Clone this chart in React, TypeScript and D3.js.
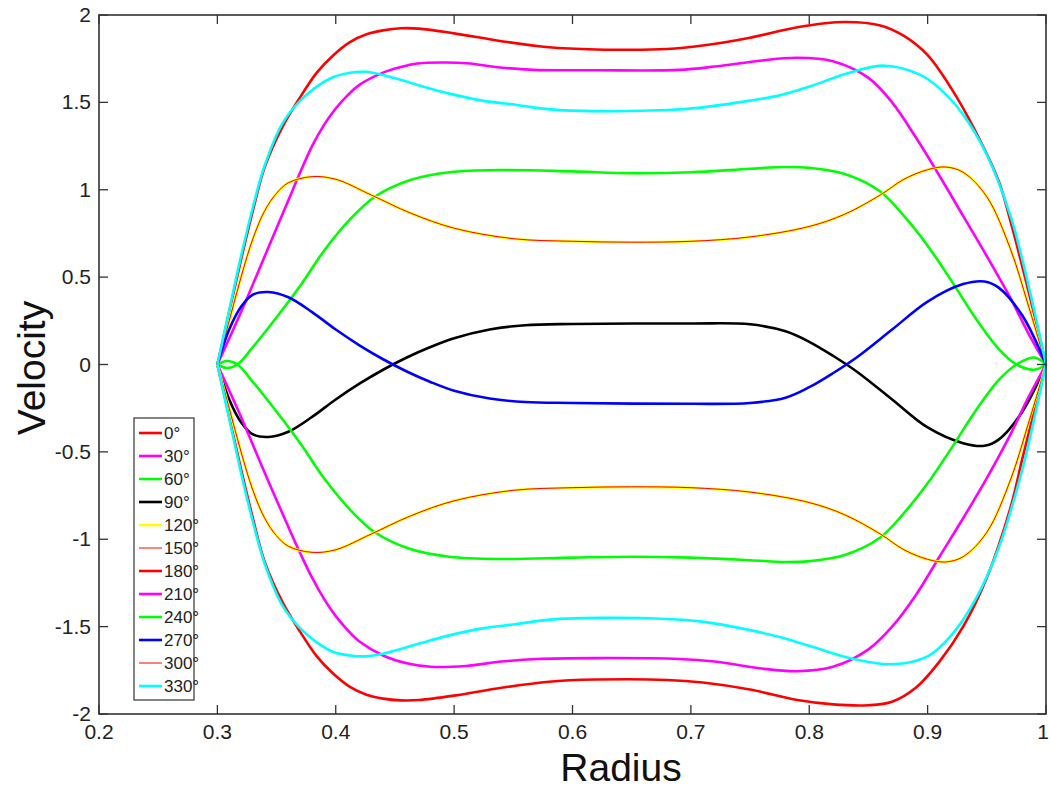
import React from "react";
import * as d3 from "d3";

const xTicks = [0.2, 0.3, 0.4, 0.5, 0.6, 0.7, 0.8, 0.9, 1];
const yTicks = [-2, -1.5, -1, -0.5, 0, 0.5, 1, 1.5, 2];
const xTickLabels = ["0.2", "0.3", "0.4", "0.5", "0.6", "0.7", "0.8", "0.9", "1"];
const yTickLabels = ["-2", "-1.5", "-1", "-0.5", "0", "0.5", "1", "1.5", "2"];

const red0: [number, number][] = [[0.3,0],[0.31,0.3],[0.32,0.6],[0.33,0.88],[0.34,1.13],[0.355,1.36],[0.37,1.53],[0.384,1.67],[0.398,1.77],[0.412,1.845],[0.426,1.89],[0.44,1.912],[0.455,1.924],[0.47,1.922],[0.5,1.895],[0.54,1.85],[0.58,1.815],[0.62,1.803],[0.68,1.805],[0.71,1.825],[0.75,1.87],[0.79,1.93],[0.83,1.96],[0.86,1.94],[0.88,1.88],[0.9,1.77],[0.92,1.58],[0.94,1.34],[0.96,1.05],[0.97,0.82],[0.98,0.56],[0.99,0.29],[1,0]];
const magenta30: [number, number][] = [[0.3,0],[0.32,0.3],[0.34,0.62],[0.36,0.94],[0.37,1.1],[0.38,1.25],[0.39,1.37],[0.4,1.465],[0.41,1.54],[0.42,1.6],[0.44,1.67],[0.454,1.7],[0.469,1.722],[0.49,1.728],[0.511,1.724],[0.539,1.7],[0.567,1.686],[0.62,1.684],[0.69,1.686],[0.72,1.705],[0.76,1.74],[0.79,1.755],[0.82,1.735],[0.85,1.64],[0.87,1.5],[0.89,1.3],[0.91,1.08],[0.93,0.85],[0.95,0.62],[0.97,0.38],[0.985,0.18],[1,0]];
const green60: [number, number][] = [[0.3,0],[0.308,-0.02],[0.317,0],[0.33,0.1],[0.342,0.2],[0.37,0.45],[0.39,0.65],[0.412,0.83],[0.433,0.96],[0.463,1.056],[0.496,1.1],[0.539,1.113],[0.6,1.105],[0.65,1.095],[0.7,1.1],[0.75,1.12],[0.78,1.13],[0.8,1.125],[0.83,1.09],[0.86,0.99],[0.88,0.85],[0.9,0.68],[0.92,0.48],[0.94,0.27],[0.96,0.09],[0.975,0],[0.99,-0.03],[1,0]];
const black90: [number, number][] = [[0.3,0],[0.31,-0.2],[0.32,-0.33],[0.33,-0.4],[0.343,-0.415],[0.36,-0.385],[0.38,-0.3],[0.4,-0.2],[0.42,-0.11],[0.44,-0.03],[0.46,0.04],[0.48,0.1],[0.5,0.15],[0.53,0.2],[0.56,0.225],[0.6,0.232],[0.7,0.235],[0.75,0.23],[0.78,0.19],[0.8,0.13],[0.82,0.05],[0.84,-0.04],[0.87,-0.2],[0.9,-0.36],[0.93,-0.45],[0.948,-0.465],[0.96,-0.43],[0.98,-0.27],[1,0]];
const yellow120: [number, number][] = [[0.3,0],[0.31,0.25],[0.32,0.5],[0.33,0.72],[0.34,0.88],[0.35,0.98],[0.36,1.04],[0.38,1.075],[0.4,1.06],[0.43,0.97],[0.463,0.867],[0.5,0.78],[0.55,0.72],[0.6,0.705],[0.65,0.7],[0.7,0.705],[0.75,0.73],[0.8,0.79],[0.83,0.86],[0.86,0.97],[0.88,1.06],[0.9,1.115],[0.915,1.13],[0.93,1.1],[0.95,0.96],[0.97,0.66],[0.985,0.34],[1,0]];
const red150: [number, number][] = yellow120.map(([x, y]) => [x, y]);
const red180: [number, number][] = [[0.3,0],[0.31,-0.3],[0.32,-0.6],[0.33,-0.88],[0.34,-1.13],[0.355,-1.36],[0.37,-1.53],[0.384,-1.67],[0.398,-1.77],[0.412,-1.845],[0.426,-1.89],[0.44,-1.912],[0.455,-1.922],[0.47,-1.92],[0.5,-1.895],[0.54,-1.85],[0.58,-1.815],[0.62,-1.803],[0.68,-1.805],[0.71,-1.82],[0.75,-1.86],[0.79,-1.92],[0.82,-1.945],[0.85,-1.95],[0.87,-1.93],[0.89,-1.85],[0.91,-1.7],[0.93,-1.5],[0.95,-1.22],[0.97,-0.82],[0.98,-0.54],[0.99,-0.27],[1,0]];
const magenta210: [number, number][] = [[0.3,0],[0.32,-0.3],[0.34,-0.62],[0.36,-0.93],[0.37,-1.08],[0.38,-1.22],[0.39,-1.34],[0.4,-1.44],[0.41,-1.52],[0.42,-1.585],[0.44,-1.665],[0.46,-1.71],[0.48,-1.73],[0.51,-1.725],[0.54,-1.7],[0.57,-1.685],[0.62,-1.68],[0.69,-1.685],[0.72,-1.7],[0.76,-1.74],[0.79,-1.755],[0.82,-1.73],[0.85,-1.63],[0.87,-1.5],[0.89,-1.32],[0.91,-1.1],[0.93,-0.88],[0.95,-0.65],[0.97,-0.4],[0.985,-0.19],[1,0]];
const green240: [number, number][] = [[0.3,0],[0.308,0.02],[0.317,0],[0.33,-0.1],[0.342,-0.2],[0.37,-0.45],[0.39,-0.65],[0.412,-0.83],[0.433,-0.96],[0.463,-1.056],[0.496,-1.1],[0.539,-1.113],[0.6,-1.105],[0.65,-1.1],[0.7,-1.105],[0.75,-1.12],[0.78,-1.13],[0.8,-1.125],[0.83,-1.09],[0.86,-0.99],[0.88,-0.85],[0.9,-0.68],[0.92,-0.48],[0.94,-0.27],[0.96,-0.09],[0.975,0],[0.99,0.04],[1,0]];
const blue270: [number, number][] = [[0.3,0],[0.31,0.2],[0.32,0.33],[0.33,0.4],[0.343,0.415],[0.36,0.385],[0.38,0.3],[0.4,0.2],[0.42,0.11],[0.44,0.03],[0.46,-0.04],[0.48,-0.1],[0.5,-0.15],[0.53,-0.195],[0.56,-0.215],[0.6,-0.22],[0.7,-0.225],[0.75,-0.22],[0.78,-0.19],[0.8,-0.13],[0.82,-0.05],[0.84,0.04],[0.87,0.2],[0.9,0.36],[0.93,0.46],[0.948,0.475],[0.96,0.44],[0.98,0.28],[1,0]];
const red300: [number, number][] = [[0.3,0],[0.31,-0.25],[0.32,-0.5],[0.33,-0.72],[0.34,-0.88],[0.35,-0.98],[0.36,-1.04],[0.38,-1.075],[0.4,-1.06],[0.43,-0.97],[0.463,-0.867],[0.5,-0.78],[0.55,-0.72],[0.6,-0.705],[0.65,-0.7],[0.7,-0.705],[0.75,-0.73],[0.8,-0.79],[0.83,-0.86],[0.86,-0.97],[0.88,-1.06],[0.9,-1.115],[0.915,-1.13],[0.93,-1.1],[0.95,-0.96],[0.97,-0.66],[0.985,-0.34],[1,0]];
const yellow300: [number, number][] = red300.map(([x, y]) => [x, y]);
const cyan330: [number, number][] = [[0.3,0],[0.31,0.31],[0.32,0.62],[0.33,0.9],[0.34,1.14],[0.355,1.38],[0.37,1.51],[0.384,1.59],[0.398,1.645],[0.412,1.67],[0.425,1.675],[0.44,1.657],[0.469,1.6],[0.496,1.55],[0.524,1.51],[0.553,1.485],[0.581,1.46],[0.623,1.45],[0.68,1.456],[0.708,1.47],[0.75,1.51],[0.775,1.54],[0.8,1.59],[0.834,1.67],[0.864,1.71],[0.893,1.66],[0.91,1.58],[0.93,1.43],[0.95,1.2],[0.97,0.85],[0.98,0.6],[0.99,0.31],[1,0]];
const cyanLower: [number, number][] = [[0.3,0],[0.31,-0.31],[0.32,-0.62],[0.33,-0.9],[0.34,-1.14],[0.355,-1.38],[0.37,-1.51],[0.384,-1.59],[0.398,-1.645],[0.412,-1.665],[0.425,-1.67],[0.44,-1.655],[0.469,-1.6],[0.496,-1.55],[0.524,-1.51],[0.553,-1.485],[0.581,-1.46],[0.623,-1.45],[0.68,-1.456],[0.708,-1.47],[0.75,-1.52],[0.775,-1.56],[0.8,-1.61],[0.834,-1.68],[0.87,-1.715],[0.9,-1.67],[0.92,-1.55],[0.94,-1.35],[0.96,-1.05],[0.98,-0.6],[0.99,-0.31],[1,0]];

const series = [
  { label: "0°", data: red0, color: "#ff0000", width: 2.6 },
  { label: "30°", data: magenta30, color: "#ff00ff", width: 2.6 },
  { label: "60°", data: green60, color: "#00ff00", width: 2.6 },
  { label: "90°", data: black90, color: "#000000", width: 2.6 },
  { label: "120°", data: yellow120, color: "#ffff00", width: 2.6 },
  { label: "150°", data: red150, color: "#ff0000", width: 1 },
  { label: "180°", data: red180, color: "#ff0000", width: 2.6 },
  { label: "210°", data: magenta210, color: "#ff00ff", width: 2.6 },
  { label: "240°", data: green240, color: "#00ff00", width: 2.6 },
  { label: "270°", data: blue270, color: "#0000ff", width: 2.6 },
  { label: "", data: yellow300, color: "#ffff00", width: 2.6 },
  { label: "300°", data: red300, color: "#ff0000", width: 1 },
  { label: "330°", data: cyan330, color: "#00ffff", width: 2.6 },
  { label: "", data: cyanLower, color: "#00ffff", width: 2.6 },
];

const L = 99, R = 1046, T = 15, B = 714;
const tickFont = "'Liberation Sans Narrow', 'Liberation Sans', Arial, sans-serif";

export default function App() {
  const x = d3.scaleLinear().domain([0.2, 1]).range([L, R]);
  const y = d3.scaleLinear().domain([-2, 2]).range([B, T]);
  const line = d3.line<[number, number]>().x(d => x(d[0])).y(d => y(d[1])).curve(d3.curveCatmullRom.alpha(0.5));
  const legendItems = series.filter(s => s.label !== "");
  const tickLen = 9;
  return (
    <svg width={1050} height={791} style={{ position: "absolute", left: 0, top: 0, background: "#fff" }}>
      <rect x={0} y={0} width={1050} height={791} fill="#fff" />
      <g>
        {series.map((s, i) => (
          <path key={i} d={line(s.data) || ""} fill="none" stroke={s.color} strokeWidth={s.width} strokeLinejoin="round" />
        ))}
      </g>
      <rect x={L} y={T} width={R - L} height={B - T} fill="none" stroke="#333" strokeWidth={1.6} />
      {xTicks.map((t, i) => (
        <g key={"xt" + i}>
          <line x1={x(t)} x2={x(t)} y1={B} y2={B - tickLen} stroke="#333" strokeWidth={1.3} />
          <line x1={x(t)} x2={x(t)} y1={T} y2={T + tickLen} stroke="#333" strokeWidth={1.3} />
          <text x={Math.min(x(t), 1043)} y={B + 25} textAnchor="middle" fontFamily={tickFont} fontSize={21} fill="#222">{xTickLabels[i]}</text>
        </g>
      ))}
      {yTicks.map((t, i) => (
        <g key={"yt" + i}>
          <line x1={L} x2={L + tickLen} y1={y(t)} y2={y(t)} stroke="#333" strokeWidth={1.3} />
          <line x1={R} x2={R - tickLen} y1={y(t)} y2={y(t)} stroke="#333" strokeWidth={1.3} />
          <text x={91} y={y(t) + 7} textAnchor="end" fontFamily={tickFont} fontSize={21} fill="#222">{yTickLabels[i]}</text>
        </g>
      ))}
      <text x={621} y={781} textAnchor="middle" fontFamily="'Liberation Sans', Arial, sans-serif" fontSize={39} fill="#111">Radius</text>
      <text transform="translate(45,368) rotate(-90)" textAnchor="middle" fontFamily="'Liberation Sans', Arial, sans-serif" fontSize={39} fill="#111">Velocity</text>
      <g>
        <rect x={134} y={418} width={60} height={282} fill="#fff" stroke="#333" strokeWidth={1.2} />
        {legendItems.map((s, i) => (
          <g key={"lg" + i}>
            <line x1={139} x2={162} y1={433 + 23 * i} y2={433 + 23 * i} stroke={s.color} strokeWidth={s.width} />
            <text x={164} y={433 + 23 * i + 6} fontFamily={tickFont} fontSize={17} fill="#222">{s.label}</text>
          </g>
        ))}
      </g>
    </svg>
  );
}
